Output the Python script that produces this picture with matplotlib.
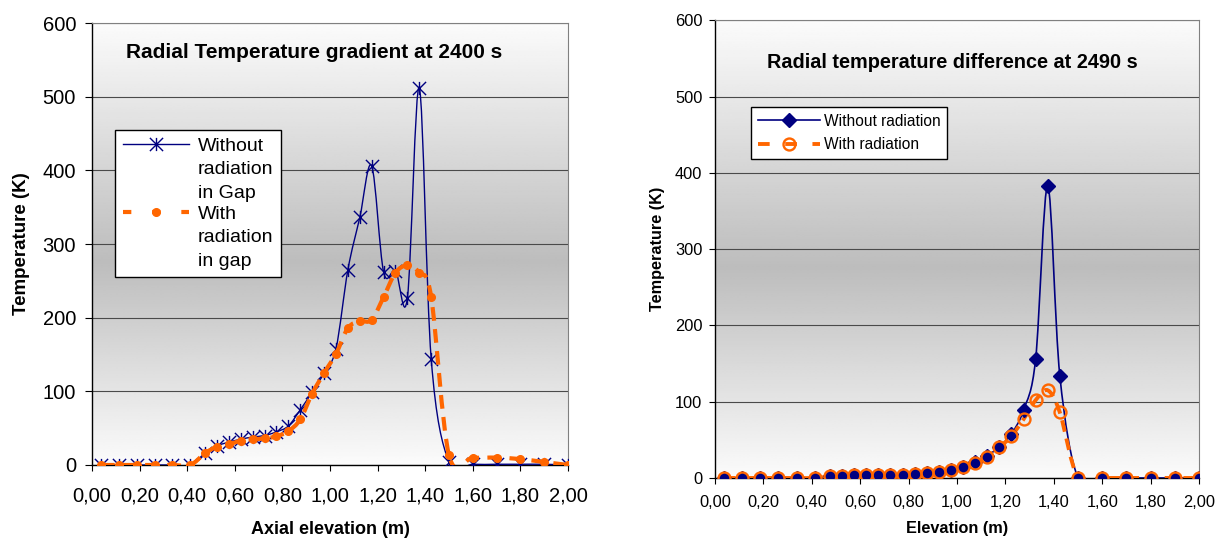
import numpy as np
import matplotlib
matplotlib.use('Agg')
import matplotlib.pyplot as plt
from matplotlib.path import Path
from matplotlib.patches import PathPatch
from matplotlib.lines import Line2D
from matplotlib.legend_handler import HandlerLine2D
from matplotlib.ticker import MultipleLocator, FuncFormatter

plt.rcParams['font.family'] = ['Liberation Sans', 'DejaVu Sans']

# elevation of the measuring points (m), same for both charts
elevation = [0.0375, 0.1125, 0.1875, 0.2625, 0.3375, 0.4125, 0.475, 0.525, 0.575, 0.625,
             0.675, 0.725, 0.775, 0.825, 0.875, 0.925, 0.975, 1.025, 1.075, 1.125,
             1.175, 1.225, 1.275, 1.325, 1.375, 1.425, 1.5, 1.6, 1.7, 1.8, 1.9, 2.0]

# left chart: radial temperature gradient at 2400 s
without_gap = [0, 0, 0, 0, 0, 0, 16, 26, 31, 35, 38, 40, 45, 53, 75, 99, 125, 158, 265, 336,
               406, 262, 264, 227, 512, 144, 4, 1, 1, 1, 1, 0]
with_gap = [0, 0, 0, 0, 0, 0, 16, 25, 28, 33, 35, 36, 39, 46, 62, 97, 125, 151, 186, 195,
            197, 228, 261, 271, 261, 228, 13, 10, 10, 8, 4, 0]

# right chart: radial temperature difference at 2490 s
without_rad = [0, 0, 0, 0, 0, 0, 2, 3, 4, 4, 4, 4, 4, 5, 6, 8, 11, 15, 21, 29,
               41, 58, 89, 156, 383, 134, 0, 0, 0, 0, 0, 0]
with_rad = [0, 0, 0, 0, 0, 0, 2, 3, 4, 4, 4, 4, 4, 5, 6, 8, 11, 14, 20, 28,
            40, 55, 77, 102, 115, 86, 0, 0, 0, 0, 0, 0]

NAVY = '#000080'
ORANGE = '#FF6600'

# asterisk marker like the excel "star" (X plus a vertical bar)
star = Path([(0, -1), (0, 1), (-1, -1), (1, 1), (-1, 1), (1, -1)],
            [Path.MOVETO, Path.LINETO, Path.MOVETO, Path.LINETO, Path.MOVETO, Path.LINETO])


def smooth_path(x, y):
    # excel-style smoothed line through the points (bezier segments)
    pts = np.column_stack([x, y]).astype(float)
    n = len(pts)
    verts = [pts[0]]
    codes = [Path.MOVETO]
    for i in range(n - 1):
        p0 = pts[max(i - 1, 0)]
        p1 = pts[i]
        p2 = pts[i + 1]
        p3 = pts[min(i + 2, n - 1)]
        verts += [p1 + (p2 - p0) / 6, p2 - (p3 - p1) / 6, p2]
        codes += [Path.CURVE4] * 3
    return Path(verts, codes)


def backdrop(ax):
    # white at top and bottom, grey band a bit below the middle
    t = np.linspace(1, 0, 256)
    dist = np.where(t > 0.46, (t - 0.46) / 0.54, (0.46 - t) / 0.46)
    shade = 0.985 - 0.245 * (1 - dist)
    ax.imshow(shade[:, None], extent=(0, 1, 0, 1), transform=ax.transAxes, cmap='gray',
              vmin=0, vmax=1, aspect='auto', zorder=0, interpolation='bilinear')


def style_axes(ax, size, xpad, ypad, xlen, ylen):
    ax.set_xlim(0, 2)
    ax.set_ylim(0, 600)
    ax.xaxis.set_major_locator(MultipleLocator(0.2))
    ax.yaxis.set_major_locator(MultipleLocator(100))
    ax.xaxis.set_major_formatter(FuncFormatter(lambda v, p: f'{v:.2f}'.replace('.', ',')))
    ax.grid(axis='y', color='#4a4a4a', lw=0.8)
    for s in ['top', 'right']:
        ax.spines[s].set_color('#808080')
    for s in ['left', 'bottom']:
        ax.spines[s].set_color('black')
        ax.spines[s].set_linewidth(1.0)
    ax.tick_params(axis='x', length=xlen, width=0.8, pad=xpad, labelsize=size)
    ax.tick_params(axis='y', length=ylen, width=0.8, pad=ypad, labelsize=size)


class FirstLineHandler(HandlerLine2D):
    # put the legend sample next to the first line of a multi-line label
    def __init__(self, lift, **kw):
        super().__init__(**kw)
        self.lift = lift

    def create_artists(self, legend, orig_handle, xdescent, ydescent, width, height, fontsize, trans):
        return super().create_artists(legend, orig_handle, xdescent, ydescent - 2 * self.lift,
                                      width, height, fontsize, trans)


fig = plt.figure(figsize=(12.19, 5.39), dpi=100)

# ---------------- left chart
ax1 = fig.add_axes([0.0755, 0.1373, 0.3905, 0.82])
backdrop(ax1)
ax1.add_patch(PathPatch(smooth_path(elevation, without_gap), fc='none', ec=NAVY, lw=1.0, zorder=3))
ax1.plot(elevation, without_gap, ls='none', marker=star, ms=9.5, mew=1.0, mec=NAVY, zorder=3)
ax1.add_patch(PathPatch(smooth_path(elevation, with_gap), fc='none', ec=ORANGE, lw=3.0,
                        ls=(0, (3.3, 2)), capstyle='butt', zorder=4))
ax1.plot(elevation, with_gap, ls='none', marker='o', ms=5.5, mfc=ORANGE, mec=ORANGE, zorder=4)
style_axes(ax1, 14.5, 11.5, 6.5, 4, 5)
ax1.set_xlabel('Axial elevation (m)', fontsize=13, fontweight='bold')
ax1.xaxis.set_label_coords(0.5, -0.147)
ax1.xaxis.label.set_va('center')
ax1.set_ylabel('Temperature (K)', fontsize=13.5, fontweight='bold')
ax1.yaxis.set_label_coords(-0.148, 0.5)
ax1.yaxis.label.set_va('center')
ax1.text(0.466, 0.934, 'Radial Temperature gradient at 2400 s', transform=ax1.transAxes,
         ha='center', va='center', fontsize=15, fontweight='bold', zorder=6)

h1 = Line2D([], [], color=NAVY, lw=1.0, marker=star, ms=9.5, mew=1.0, mec=NAVY)
h2 = Line2D([], [], color=ORANGE, lw=3.0, ls=(0, (2, 5)), marker='o', ms=5.5, mfc=ORANGE, mec=ORANGE)
leg1 = ax1.legend([h1, h2], ['Without\nradiation\nin Gap', 'With\nradiation\nin gap'],
                  loc='upper left', bbox_to_anchor=(115 / 1219, 1 - 130 / 539),
                  bbox_transform=fig.transFigure, borderaxespad=0, fontsize=14,
                  handlelength=3.4, handletextpad=0.45, borderpad=0.4, labelspacing=0.2,
                  numpoints=1, fancybox=False, framealpha=1, edgecolor='black',
                  handler_map={h1: FirstLineHandler(18), h2: FirstLineHandler(18)})
leg1.get_frame().set_linewidth(1.0)
leg1.set_zorder(7)
for t in leg1.get_texts():
    t.set_linespacing(1.5)

# ---------------- right chart
ax2 = fig.add_axes([0.5865, 0.1132, 0.3971, 0.8488])
backdrop(ax2)
ax2.add_patch(PathPatch(smooth_path(elevation, without_rad), fc='none', ec=NAVY, lw=1.2, zorder=3))
ax2.add_patch(PathPatch(smooth_path(elevation, with_rad), fc='none', ec=ORANGE, lw=2.8,
                        ls=(0, (3, 1.8)), capstyle='butt', zorder=4))
ax2.plot(elevation, without_rad, ls='none', marker='D', ms=7.3, mfc=NAVY, mec=NAVY, zorder=5)
ax2.plot(elevation, with_rad, ls='none', marker='o', ms=8.6, mfc='none', mec=ORANGE, mew=1.7, zorder=6)
style_axes(ax2, 11.8, 8.5, 5, 4, 4)
ax2.set_xlabel('Elevation (m)', fontsize=11.7, fontweight='bold')
ax2.xaxis.set_label_coords(0.5, -0.111)
ax2.xaxis.label.set_va('center')
ax2.set_ylabel('Temperature (K)', fontsize=11.7, fontweight='bold')
ax2.yaxis.set_label_coords(-0.118, 0.5)
ax2.yaxis.label.set_va('center')
ax2.text(0.49, 0.909, 'Radial temperature difference at 2490 s', transform=ax2.transAxes,
         ha='center', va='center', fontsize=14.3, fontweight='bold', zorder=6)

h3 = Line2D([], [], color=NAVY, lw=1.2, marker='D', ms=7.3, mfc=NAVY, mec=NAVY)
h4 = Line2D([], [], color=ORANGE, lw=2.8, ls=(0, (3, 4)), marker='o', ms=8.6, mfc='none',
            mec=ORANGE, mew=1.7)
leg2 = ax2.legend([h3, h4], ['Without radiation', 'With radiation'],
                  loc='upper left', bbox_to_anchor=(751 / 1219, 1 - 107 / 539),
                  bbox_transform=fig.transFigure, borderaxespad=0, fontsize=11.2,
                  handlelength=4.0, handletextpad=0.26, borderpad=0.42, labelspacing=0.55,
                  numpoints=1, fancybox=False, framealpha=1, edgecolor='black')
leg2.get_frame().set_linewidth(1.0)
leg2.set_zorder(7)

fig.savefig('out.png', dpi=100)
